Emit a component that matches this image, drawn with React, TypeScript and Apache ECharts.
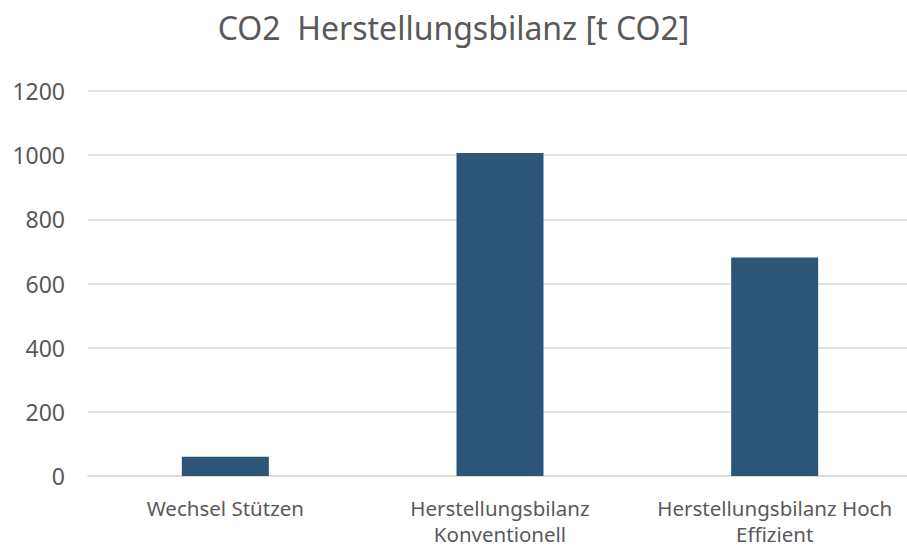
import React, { useEffect, useRef } from "react";
import * as echarts from "echarts";

const titleText = "CO2  Herstellungsbilanz [t CO2]";
const categories = ["Wechsel Stützen", "Herstellungsbilanz\nKonventionell", "Herstellungsbilanz Hoch\nEffizient"];
const values = [60, 1007, 681];
const yMin = 0;
const yMax = 1200;
const yInterval = 200;

export default function App() {
  const ref = useRef<HTMLDivElement>(null);
  useEffect(() => {
    if (!ref.current) return;
    const chart = echarts.init(ref.current, null, { renderer: "svg" });
    const font = "'Noto Sans', sans-serif";
    chart.setOption({
      animation: false,
      backgroundColor: "#ffffff",
      title: {
        text: titleText,
        left: "center",
        top: 6,
        textStyle: { fontFamily: font, fontSize: 32, fontWeight: "normal", color: "#595959" },
      },
      grid: { left: 88, top: 91, width: 824, height: 385, containLabel: false, outerBoundsMode: "none" },
      xAxis: {
        type: "category",
        data: categories,
        axisLine: { show: true, lineStyle: { color: "#D9D9D9", width: 1.5 } },
        axisTick: { show: false },
        axisLabel: {
          color: "#595959",
          fontFamily: font,
          fontSize: 20.5,
          lineHeight: 26,
          margin: 19,
          interval: 0,
        },
      },
      yAxis: {
        type: "value",
        min: yMin,
        max: yMax,
        interval: yInterval,
        axisLine: { show: false },
        axisTick: { show: false },
        splitLine: { lineStyle: { color: "#D9D9D9", width: 1.5 } },
        axisLabel: {
          color: "#595959",
          fontFamily: font,
          fontSize: 23,
          margin: 23,
          formatter: (v: number) => String(v),
        },
      },
      series: [
        {
          type: "bar",
          data: values,
          barWidth: 87,
          itemStyle: { color: "#2D5577" },
        },
      ],
    });
    return () => chart.dispose();
  }, []);
  return <div ref={ref} style={{ width: 907, height: 547, position: "absolute", left: 0, top: 0 }} />;
}
